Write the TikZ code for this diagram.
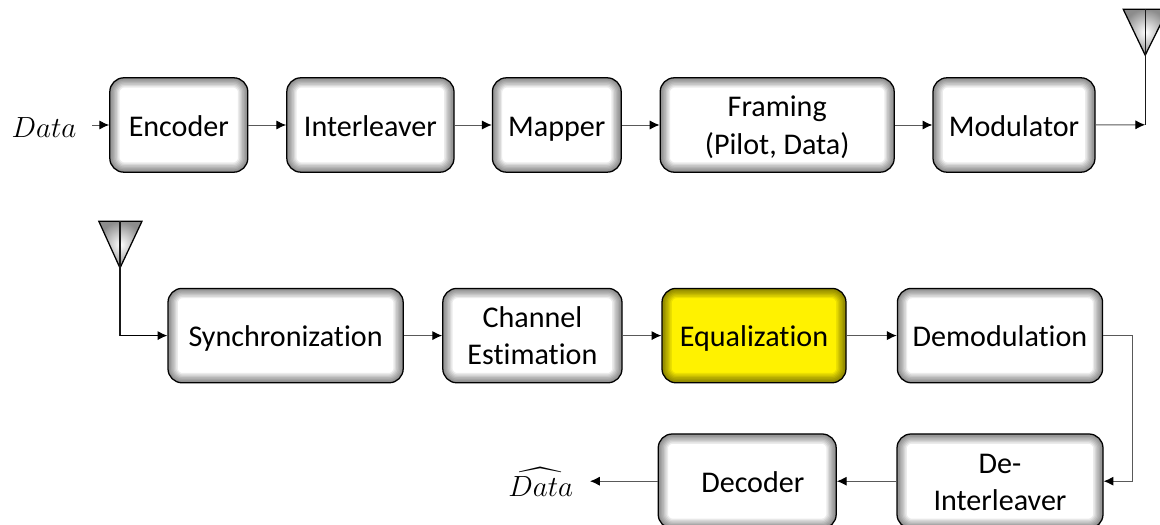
\documentclass[tikz,border=0pt]{standalone}
\usepackage{amsmath}
\usepackage{fontspec}
\setmainfont[Ligatures=NoCommon]{Carlito}
\usetikzlibrary{arrows.meta}
\newcommand{\toprow}{\rule{0pt}{23pt}}
\tikzset{
  blockbox/.style = { rectangle, rounded corners=10pt, draw, line width=0.9pt,
    minimum height = 2.36cm, inner sep=0pt, align=center, text = black,
    font = \fontsize{21.4}{26.5}\selectfont, fill = #1,
    execute at begin node = \rule[0pt]{0pt}{24pt},
    execute at end node = \rule[-8pt]{0pt}{8pt},
    path picture = {
      \foreach \lw in {2,4,...,14}
        \draw[black, opacity=0.08, line width=\lw pt, rounded corners=10pt]
          (path picture bounding box.south west) rectangle (path picture bounding box.north east);
    } },
  blockbox/.default = white,
  datalabel/.style = { inner sep=0pt, font = \fontsize{19.5}{24}\selectfont },
  flow/.style = { draw=black!65, line width=0.7pt, -{Latex[black, length=7pt, width=6.5pt]} },
  feed/.style = { draw=black!90, line width=0.9pt },
  antenna/.style = { draw=black, line width=0.9pt, inner color=white, outer color=black!45 }
}
\begin{document}
\begin{tikzpicture}
  \path[use as bounding box, clip] (0,0) rectangle (29,13.1);
  % transmit chain
  \node[blockbox, minimum width=3.45cm] (Encoder) at (4.47,9.975) {Encoder};
  \node[blockbox, minimum width=4.18cm] (Interleaver) at (9.26,9.975) {Interleaver};
  \node[blockbox, minimum width=3.22cm] (Mapper) at (13.92,9.975) {Mapper};
  \node[blockbox, minimum width=5.85cm] (Framing) at (19.43,9.975) {\toprow Framing\\(Pilot, Data)};
  \node[blockbox, minimum width=4.05cm] (Modulator) at (25.35,9.975) {Modulator};
  \node[datalabel] (DataIn) at (1.1,9.92) {$Data$};
  % receive chain
  \node[blockbox, minimum width=5.88cm] (Sync) at (7.14,4.71) {Synchronization};
  \node[blockbox, minimum width=4.48cm] (ChanEst) at (13.31,4.71) {\toprow Channel\\Estimation};
  \node[blockbox=yellow, minimum width=4.6cm] (Equal) at (18.85,4.71) {Equalization};
  \node[blockbox, minimum width=5.13cm] (Demod) at (25,4.71) {Demodulation};
  \node[blockbox, minimum width=5.15cm] (DeInter) at (25,1.07) {\toprow De-\\Interleaver};
  \node[blockbox, minimum width=4.45cm] (Decoder) at (18.68,1.07) {\hspace*{0.28cm}Decoder};
  \node[datalabel] (DataOut) at (13.52,1.05) {$\widehat{Data}$};
  % antennas
  \coordinate (TxTop) at (28.63,12.87);
  \coordinate (TxTip) at (28.63,11.72);
  \coordinate (TxFoot) at (28.63,9.98);
  \coordinate (RxTop) at (3,7.57);
  \coordinate (RxTip) at (3,6.4);
  \coordinate (RxFoot) at (3,4.71);
  \coordinate (RxBend) at (28.3,1.07);
  \draw[antenna] (28.08,12.87) -- (29.2,12.87) -- (TxTip) -- cycle;
  \draw[antenna] (2.47,7.57) -- (3.55,7.57) -- (RxTip) -- cycle;
  \draw[feed] (TxTop) -- (TxFoot);
  \draw[feed] (RxTop) -- (RxFoot);
  % links
  \draw[flow] (2.3,9.975) -- (Encoder);
  \draw[flow] (Encoder) -- (Interleaver);
  \draw[flow] (Interleaver) -- (Mapper);
  \draw[flow] (Mapper) -- (Framing);
  \draw[flow] (Framing) -- (Modulator);
  \draw[flow] (Modulator) -- (TxFoot);
  \draw[flow, draw=black] (RxFoot) -- (Sync);
  \draw[flow] (Sync) -- (ChanEst);
  \draw[flow] (ChanEst) -- (Equal);
  \draw[flow] (Equal) -- (Demod);
  \draw[flow] (Demod.east) -| (RxBend) -- (DeInter.east);
  \draw[flow] (DeInter) -- (Decoder);
  \draw[flow] (Decoder) -- (14.75,1.07);
\end{tikzpicture}
\end{document}
